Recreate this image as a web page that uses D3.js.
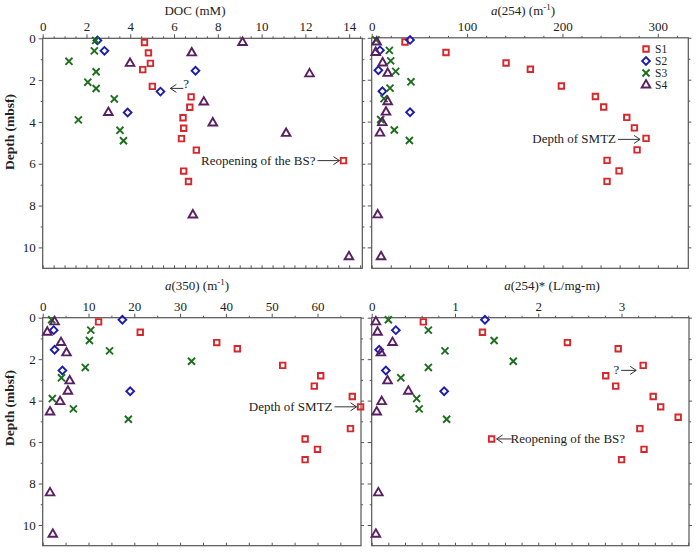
<!DOCTYPE html>
<html>
<head>
<meta charset="utf-8">
<script src="https://cdn.jsdelivr.net/npm/d3@7"></script>
<style>
  body { margin: 0; background: #fff; }
  svg { display: block; }
  text { font-family: "Liberation Serif", "Times New Roman", serif; fill: #222; }
</style>
</head>
<body>
<svg width="697" height="553"></svg>
<script>
// глубины отбора (mbsf) по станциям
const depthS1 = [0.2, 0.7, 1.2, 1.5, 2.3, 2.8, 3.3, 3.8, 4.3, 4.8, 5.35, 5.85, 6.35, 6.85];
const depthS2 = [0.1, 0.6, 1.55, 2.55, 3.55];
const depthS3 = [0.1, 0.6, 1.1, 1.6, 2.1, 2.4, 2.9, 3.9, 4.4, 4.9];
const depthS4 = [0.2, 0.7, 1.2, 1.7, 3.05, 3.55, 4.05, 4.55, 8.45, 10.45];

// DOC (mM)
const docS1 = [4.65, 4.83, 4.92, 4.57, 5.01, 6.78, 6.72, 6.41, 6.44, 6.34, 7.02, 13.74, 6.44, 6.66];
const docS2 = [2.50, 2.82, 6.98, 5.38, 3.88];
const docS3 = [2.42, 2.36, 1.20, 2.44, 2.06, 2.44, 3.27, 1.63, 3.53, 3.69];
const docS4 = [9.13, 6.81, 3.99, 12.19, 7.36, 3.0, 7.77, 11.12, 6.86, 13.99];

// a(254) (m-1)
const a254S1 = [34.9, 77.9, 140.9, 166.4, 198.9, 234.6, 243.3, 267.5, 275.5, 287.7, 278.3, 246.8, 259.4, 246.8];
const a254S2 = [40.2, 8.7, 7.0, 11.2, 40.2];
const a254S3 = [4.5, 18.5, 19.9, 25.2, 41.2, 19.2, 12.9, 9.4, 23.7, 39.5];
const a254S4 = [5.2, 4.2, 11.5, 16.8, 16.8, 15.0, 11.1, 8.7, 6.3, 9.8];

// a(350) (m-1), у S1 на 4.8 м значения нет
const a350S1 = [12.2, 21.3, 38.0, 42.5, 52.4, 60.7, 59.3, 67.6, 69.4, null, 67.2, 57.3, 60.0, 57.3];
const a350S2 = [17.4, 2.4, 2.6, 4.3, 19.1];
const a350S3 = [1.96, 10.5, 10.2, 14.6, 32.5, 9.3, 4.1, 2.1, 6.7, 18.7];
const a350S4 = [2.6, 1.0, 4.0, 5.2, 5.9, 5.5, 3.8, 1.6, 1.6, 2.2];

// a(254)* (L/mg-m)
const suvaS1 = [0.62, 1.33, 2.35, 2.96, 3.26, 2.81, 2.93, 3.38, 3.47, 3.68, 3.22, 1.44, 3.27, 3.0];
const suvaS2 = [1.36, 0.29, 0.09, 0.17, 0.87];
const suvaS3 = [0.2, 0.68, 1.47, 0.88, 1.70, 0.68, 0.35, 0.54, 0.57, 0.90];
const suvaS4 = [0.05, 0.07, 0.25, 0.11, 0.19, 0.44, 0.12, 0.06, 0.08, 0.05];

const siteNames = ["S1", "S2", "S3", "S4"];
const depthTicks = [0, 2, 4, 6, 8, 10];

const svg = d3.select("svg");

const styles = {
    S1: { color: "#d8262b", type: d3.symbolSquare, size: 30, rot: 0 },
    S2: { color: "#1c1cb0", type: d3.symbolSquare, size: 30, rot: 45 },
    S3: { color: "#1d6e1d", type: d3.symbolTimes, size: 34, rot: 0 },
    S4: { color: "#5a1f62", type: d3.symbolTriangle, size: 32, rot: 0 }
};

const panels = [
    { title: "DOC (mM)", plain: true, titleX: 195, titleY: 15,
      left: 42.7, right: 362.3, top: 38.3, bottom: 268.3, domain: [0, 14.6], major: 2, minor: 0.5,
      fmt: d3.format("d"), yLabels: true,
      series: [[depthS1, docS1], [depthS2, docS2], [depthS3, docS3], [depthS4, docS4]] },
    { title: "a(254) (m", sup: "-1", titleX: 523, titleY: 15,
      left: 371.7, right: 688.3, top: 37.8, bottom: 268.3, domain: [0, 332], major: 100, minor: 20,
      fmt: d3.format("d"), yLabels: false,
      series: [[depthS1, a254S1], [depthS2, a254S2], [depthS3, a254S3], [depthS4, a254S4]] },
    { title: "a(350) (m", sup: "-1", titleX: 197, titleY: 290,
      left: 42.7, right: 361, top: 317.7, bottom: 545.7, domain: [0, 69.5], major: 10, minor: 5,
      fmt: d3.format("d"), yLabels: true,
      series: [[depthS1, a350S1], [depthS2, a350S2], [depthS3, a350S3], [depthS4, a350S4]] },
    { title: "a(254)* (L/mg-m)", titleX: 552, titleY: 290,
      left: 371.7, right: 689, top: 317.7, bottom: 545.7, domain: [0, 3.81], major: 1, minor: 0.2,
      fmt: d3.format("d"), yLabels: false,
      series: [[depthS1, suvaS1], [depthS2, suvaS2], [depthS3, suvaS3], [depthS4, suvaS4]] }
];

function ticksFor(max, step) {
    let arr = [];
    for (let i = 0; i * step <= max + 1e-9; i++) arr.push(+(i * step).toFixed(4));
    return arr;
}

function styleAxis(g) {
    g.select(".domain").remove();
    g.selectAll("line").attr("stroke", "#555");
    g.selectAll("text").style("font-family", '"Liberation Serif", serif').style("font-size", "13px").attr("fill", "#222");
}

function drawPanel(p) {
    const scX = d3.scaleLinear().domain(p.domain).range([p.left, p.right]);
    const scY = d3.scaleLinear().domain([0, 11]).range([p.top, p.bottom]);

    const majors = ticksFor(p.domain[1], p.major);
    const minors = ticksFor(p.domain[1], p.minor).filter(v => !majors.some(m => Math.abs(m - v) < 1e-6));
    const dMinor = [1, 3, 5, 7, 9];

    // верхняя ось с подписями
    svg.append("g").attr("transform", `translate(0, ${p.top})`)
        .call(d3.axisTop(scX).tickValues(majors).tickSize(4).tickPadding(3).tickFormat(p.fmt))
        .call(styleAxis);
    svg.append("g").attr("transform", `translate(0, ${p.top})`)
        .call(d3.axisTop(scX).tickValues(minors).tickSize(2).tickFormat(""))
        .call(styleAxis);

    // нижняя ось - засечки внутрь
    svg.append("g").attr("transform", `translate(0, ${p.bottom})`)
        .call(d3.axisBottom(scX).tickValues(majors.concat(minors)).tickSize(-3).tickFormat(""))
        .call(styleAxis);

    // левая ось
    svg.append("g").attr("transform", `translate(${p.left}, 0)`)
        .call(d3.axisLeft(scY).tickValues(depthTicks).tickSize(4).tickPadding(3)
            .tickFormat(p.yLabels ? d3.format("d") : ""))
        .call(styleAxis);
    svg.append("g").attr("transform", `translate(${p.left}, 0)`)
        .call(d3.axisLeft(scY).tickValues(dMinor).tickSize(2).tickFormat(""))
        .call(styleAxis);

    // правая ось
    svg.append("g").attr("transform", `translate(${p.right}, 0)`)
        .call(d3.axisRight(scY).tickValues(depthTicks).tickSize(3).tickFormat(""))
        .call(styleAxis);
    svg.append("g").attr("transform", `translate(${p.right}, 0)`)
        .call(d3.axisRight(scY).tickValues(dMinor).tickSize(2).tickFormat(""))
        .call(styleAxis);

    // рамка
    svg.append("rect")
        .attr("x", p.left).attr("y", p.top)
        .attr("width", p.right - p.left).attr("height", p.bottom - p.top)
        .attr("fill", "none").attr("stroke", "#555").attr("stroke-width", 1.2);

    // заголовок оси
    let t = svg.append("text").attr("x", p.titleX).attr("y", p.titleY)
        .attr("text-anchor", "middle").style("font-size", "13px");
    if (p.plain) {
        t.text(p.title);
    } else {
        t.append("tspan").style("font-style", "italic").text("a");
        t.append("tspan").text(p.title.slice(1));
        if (p.sup) {
            t.append("tspan").attr("dy", -5).style("font-size", "9px").text(p.sup);
            t.append("tspan").attr("dy", 5).text(")");
        }
    }

    // точки
    p.series.forEach((s, i) => {
        const st = styles[siteNames[i]];
        const pts = s[0].map((d, k) => ({ depth: d, value: s[1][k] })).filter(d => d.value != null);
        const sym = d3.symbol().type(st.type).size(st.size);
        svg.append("g").selectAll("path")
            .data(pts)
            .enter()
            .append("path")
            .attr("d", sym)
            .attr("transform", d => `translate(${scX(d.value)}, ${scY(d.depth)}) rotate(${st.rot})`)
            .attr("fill", "none")
            .attr("stroke", st.color)
            .attr("stroke-width", 1.9);
    });

    return [scX, scY];
}

const scales = panels.map(drawPanel);

// подпись оси глубин
[132, 408].forEach(cy => {
    svg.append("text")
        .attr("transform", `translate(14, ${cy}) rotate(-90)`)
        .attr("text-anchor", "middle")
        .style("font-size", "13.5px").style("font-weight", "bold")
        .text("Depth (mbsf)");
});

// легенда
siteNames.forEach((name, i) => {
    const st = styles[name];
    const y = 49 + i * 12;
    svg.append("path")
        .attr("d", d3.symbol().type(st.type).size(st.size))
        .attr("transform", `translate(646, ${y}) rotate(${st.rot})`)
        .attr("fill", "none").attr("stroke", st.color).attr("stroke-width", 1.9);
    svg.append("text").attr("x", 655).attr("y", y + 4)
        .style("font-size", "11.5px").text(name);
});

// стрелки и подписи
function arrow(x1, y1, x2, y2) {
    const dir = Math.sign(x2 - x1);
    svg.append("path")
        .attr("d", `M${x1},${y1}L${x2},${y2}M${x2 - dir * 6},${y2 - 4}L${x2},${y2}L${x2 - dir * 6},${y2 + 4}`)
        .attr("fill", "none").attr("stroke", "#333").attr("stroke-width", 1);
}

function note(x, y, txt, anchor) {
    svg.append("text").attr("x", x).attr("y", y)
        .attr("text-anchor", anchor).style("font-size", "13px").attr("fill", "#222").text(txt);
}

// DOC: Reopening of the BS?
{
    const [sx, sy] = scales[0];
    const px = sx(docS1[11]), py = sy(depthS1[11]);
    arrow(px - 26, py, px - 4, py);
    note(px - 28, py + 4, "Reopening of the BS?", "end");
    const qx = sx(docS1[4]), qy = sy(depthS1[4]);
    arrow(qx + 31, qy + 2, qx + 18, qy + 2);
    note(qx + 31, qy + 2, "?", "start");
}
// a(254): Depth of SMTZ
{
    const [sx, sy] = scales[1];
    const px = sx(a254S1[9]), py = sy(depthS1[9]);
    arrow(px - 28, py + 1, px - 6, py + 1);
    note(px - 30, py + 5, "Depth of SMTZ", "end");
}
// a(350): Depth of SMTZ
{
    const [sx, sy] = scales[2];
    const px = sx(a350S1[8]), py = sy(depthS1[8]);
    arrow(px - 26, py, px - 4, py);
    note(px - 28, py + 4, "Depth of SMTZ", "end");
}
// a(254)*: ? и Reopening of the BS?
{
    const [sx, sy] = scales[3];
    const qx = sx(suvaS1[4]), qy = sy(depthS1[4]);
    arrow(qx - 22, qy + 5, qx - 7, qy + 5);
    note(qx - 24, qy + 9, "?", "end");
    const px = sx(suvaS1[11]), py = sy(depthS1[11]);
    arrow(px + 20, py, px + 5, py);
    note(px + 19, py + 4, "Reopening of the BS?", "start");
}
</script>
</body>
</html>
